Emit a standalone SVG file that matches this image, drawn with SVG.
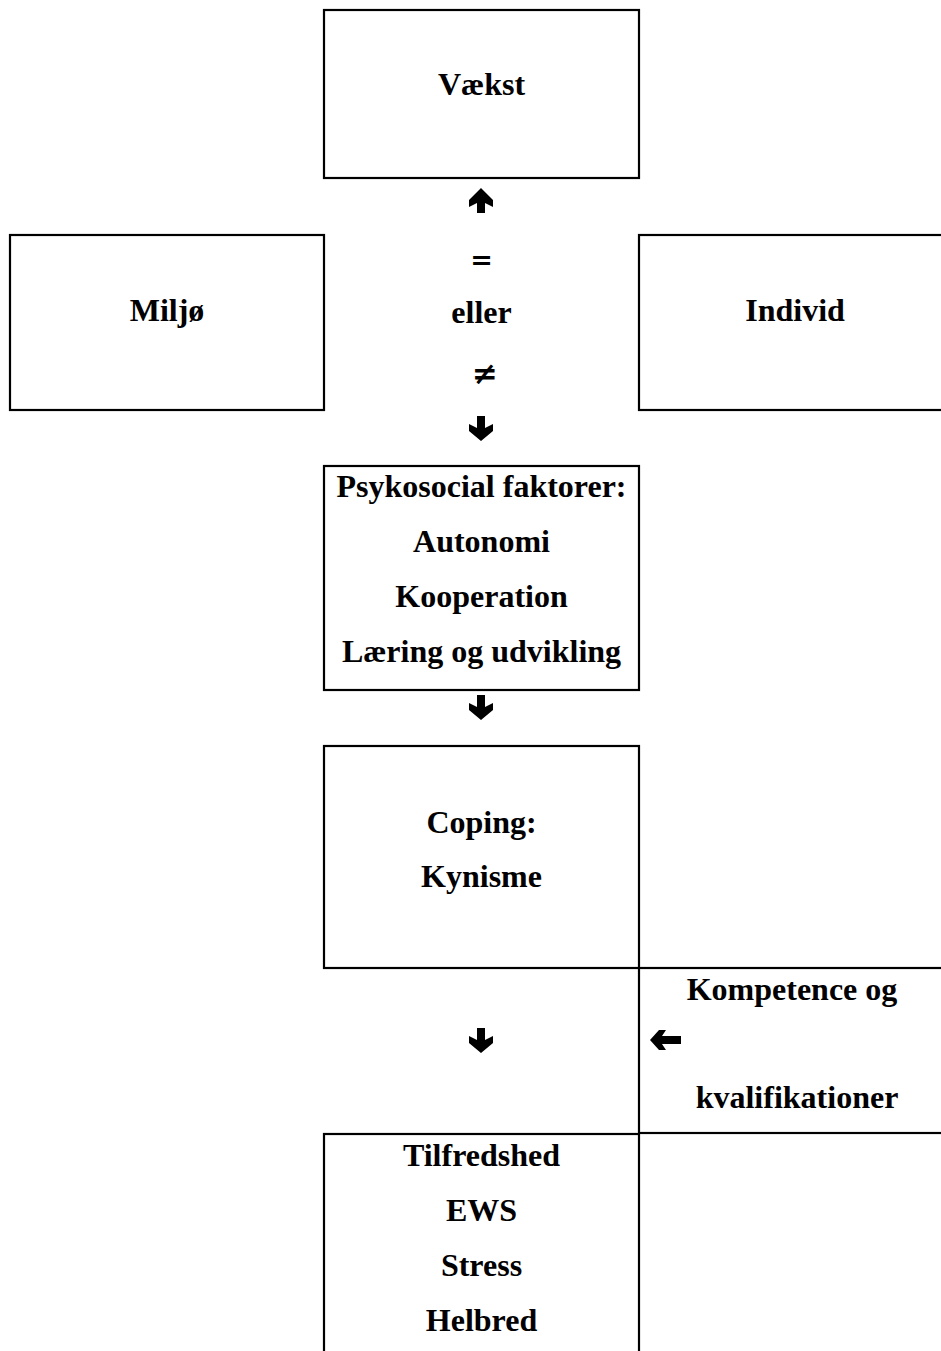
<svg xmlns="http://www.w3.org/2000/svg" width="941" height="1351" viewBox="0 0 941 1351">
<style>
.box{fill:#fff;stroke:#000;stroke-width:2.2}
.t{font-family:"Liberation Serif","Times New Roman",serif;font-weight:bold;font-size:32px;fill:#000;text-anchor:middle}
.sym{font-family:"DejaVu Sans",sans-serif;font-weight:bold;font-size:27px;fill:#000;text-anchor:middle}
.arr{fill:#000;stroke:none}
</style>
<rect width="941" height="1351" fill="#fff"/>
<g id="vaekst">
<rect class="box" x="324" y="10" width="315" height="168"/>
<text class="t" x="481.5" y="95">Vækst</text>
</g>
<g id="miljo">
<rect class="box" x="10" y="235" width="314" height="175"/>
<text class="t" x="167" y="321">Miljø</text>
</g>
<g id="individ">
<rect class="box" x="639" y="235" width="310" height="175"/>
<text class="t" x="795" y="321">Individ</text>
</g>
<g id="relation">
<text class="sym" x="481.5" y="269">=</text>
<text class="t" x="481.5" y="323">eller</text>
<text class="sym" x="485" y="384" style="font-size:31px">≠</text>
</g>
<g id="psykosocial">
<rect class="box" x="324" y="466" width="315" height="224"/>
<text class="t" x="481.5" y="497">Psykosocial faktorer:</text>
<text class="t" x="481.5" y="552">Autonomi</text>
<text class="t" x="481.5" y="607">Kooperation</text>
<text class="t" x="481.5" y="662">Læring og udvikling</text>
</g>
<g id="coping">
<rect class="box" x="324" y="746" width="315" height="222"/>
<text class="t" x="481.5" y="833">Coping:</text>
<text class="t" x="481.5" y="887">Kynisme</text>
</g>
<g id="kompetence">
<rect class="box" x="639" y="968" width="310" height="165"/>
<text class="t" x="792" y="1000">Kompetence og</text>
<text class="t" x="797" y="1108">kvalifikationer</text>
</g>
<g id="udfald">
<rect class="box" x="324" y="1134" width="315" height="230"/>
<text class="t" x="481.5" y="1166">Tilfredshed</text>
<text class="t" x="481.5" y="1221">EWS</text>
<text class="t" x="481.5" y="1276">Stress</text>
<text class="t" x="481.5" y="1331">Helbred</text>
</g>
<g id="connectors">
<path class="arr" d="M481 188 L493 200 L493 207 L485 203 L485 213 L477 213 L477 203 L469 207 L469 200 Z"/>
<path class="arr" d="M477 416 L485 416 L485 428 L493 424 L493 431 L481 441 L469 431 L469 424 L477 428 Z"/>
<path class="arr" d="M477 695 L485 695 L485 707 L493 703 L493 710 L481 720 L469 710 L469 703 L477 707 Z"/>
<path class="arr" d="M477 1028 L485 1028 L485 1040 L493 1036 L493 1043 L481 1053 L469 1043 L469 1036 L477 1040 Z"/>
<path class="arr" d="M650 1040 L659 1030 L666 1030 L662 1036 L681 1036 L681 1044 L662 1044 L666 1050 L659 1050 Z"/>
</g>
</svg>
